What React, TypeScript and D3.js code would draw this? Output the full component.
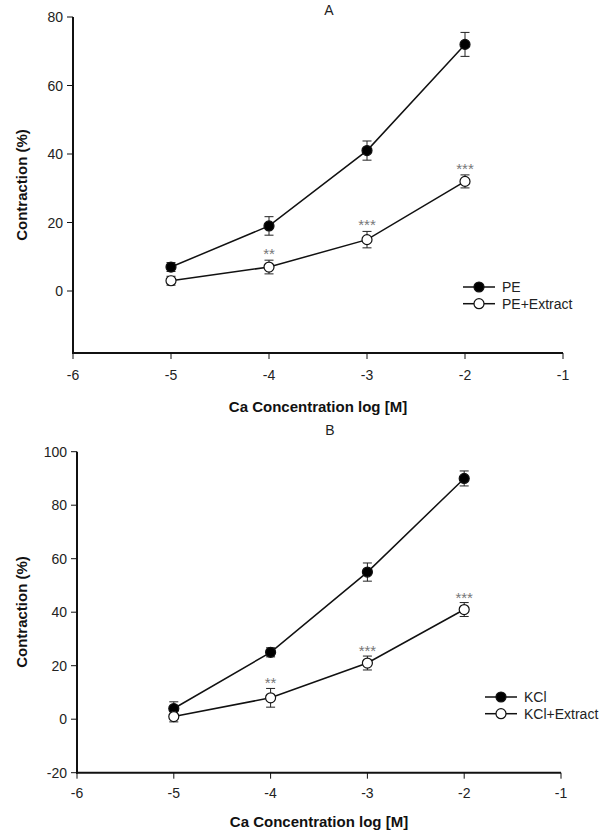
import React from "react";
import * as d3 from "d3";

const concentrations = [-5, -4, -3, -2];
const xTicks = [-6, -5, -4, -3, -2, -1];

const peMean = [7, 19, 41, 72];
const peErr = [1.3, 2.7, 2.8, 3.5];
const peExtMean = [3, 7, 15, 32];
const peExtErr = [1.3, 2, 2.4, 1.9];
const peStars = ["", "**", "***", "***"];
const yTicksA = [0, 20, 40, 60, 80];

const kclMean = [4, 25, 55, 90];
const kclErr = [2.5, 1.7, 3.4, 2.8];
const kclExtMean = [1, 8, 21, 41];
const kclExtErr = [2, 3.5, 2.6, 2.6];
const kclStars = ["", "**", "***", "***"];
const yTicksB = [-20, 0, 20, 40, 60, 80, 100];

const FONT = "'Liberation Sans', Arial, sans-serif";

type PanelProps = {
  title: string;
  titleY: number;
  x0: number;
  x1: number;
  yTop: number;
  yBottom: number;
  yDomain: [number, number];
  yTicks: number[];
  ctrlMean: number[];
  ctrlErr: number[];
  extMean: number[];
  extErr: number[];
  stars: string[];
  ctrlLabel: string;
  extLabel: string;
  legendX: number;
  legendY: number;
  tickLabelDy: number;
  xTitleY: number;
  yTitleY: number;
  starDy: number;
};

function Panel(p: PanelProps) {
  const x = d3.scaleLinear().domain([-6, -1]).range([p.x0, p.x1]);
  const y = d3.scaleLinear().domain(p.yDomain).range([p.yBottom, p.yTop]);
  const line = d3
    .line<number>()
    .x((_, i) => x(concentrations[i]))
    .y((d) => y(d));

  const series = [
    { mean: p.ctrlMean, err: p.ctrlErr, fill: "#000" },
    { mean: p.extMean, err: p.extErr, fill: "#fff" },
  ];
  const cap = 4.5;

  return (
    <g>
      <text x={(p.x0 + p.x1) / 2 + 11} y={p.titleY} fontFamily={FONT} fontSize={14} textAnchor="middle" fill="#222">
        {p.title}
      </text>
      {/* axes */}
      <line x1={p.x0} x2={p.x0} y1={p.yTop} y2={p.yBottom + 1} stroke="#111" strokeWidth={2} />
      <line x1={p.x0 - 1} x2={p.x1} y1={p.yBottom} y2={p.yBottom} stroke="#111" strokeWidth={2} />
      {p.yTicks.map((t) => (
        <g key={"y" + t}>
          <line x1={p.x0 - 6} x2={p.x0} y1={y(t)} y2={y(t)} stroke="#111" strokeWidth={1} />
          <text x={p.x0 - 10} y={y(t)} dy="0.36em" textAnchor="end" fontFamily={FONT} fontSize={14} fill="#222">
            {t}
          </text>
        </g>
      ))}
      {xTicks.map((t) => (
        <g key={"x" + t}>
          <line x1={x(t)} x2={x(t)} y1={p.yBottom} y2={p.yBottom + 6} stroke="#111" strokeWidth={1} />
          <text x={x(t)} y={p.yBottom + p.tickLabelDy} dy="0.36em" textAnchor="middle" fontFamily={FONT} fontSize={14} fill="#222">
            {t}
          </text>
        </g>
      ))}
      <text x={(p.x0 + p.x1) / 2} y={p.xTitleY} dy="0.36em" textAnchor="middle" fontFamily={FONT} fontSize={15} fontWeight="bold" fill="#111">
        Ca Concentration log [M]
      </text>
      <text
        transform={`translate(22,${p.yTitleY}) rotate(-90)`}
        dy="0.36em"
        textAnchor="middle"
        fontFamily={FONT}
        fontSize={15}
        fontWeight="bold"
        fill="#111"
      >
        Contraction (%)
      </text>
      {/* lines */}
      {series.map((s, si) => (
        <path key={"l" + si} d={line(s.mean) || ""} fill="none" stroke="#111" strokeWidth={1.5} />
      ))}
      {/* error bars */}
      {series.map((s, si) =>
        s.mean.map((m, i) => {
          const cx = x(concentrations[i]);
          const top = y(m + s.err[i]);
          const bot = y(m - s.err[i]);
          return (
            <g key={"e" + si + i} stroke="#222" strokeWidth={1}>
              <line x1={cx} x2={cx} y1={top} y2={bot} />
              <line x1={cx - cap} x2={cx + cap} y1={top} y2={top} />
              <line x1={cx - cap} x2={cx + cap} y1={bot} y2={bot} />
            </g>
          );
        })
      )}
      {/* markers */}
      {series.map((s, si) =>
        s.mean.map((m, i) => (
          <circle key={"c" + si + i} cx={x(concentrations[i])} cy={y(m)} r={5} fill={s.fill} stroke="#111" strokeWidth={1.2} />
        ))
      )}
      {/* stars */}
      {p.stars.map((st, i) =>
        st ? (
          <text
            key={"s" + i}
            x={x(concentrations[i])}
            y={y(p.extMean[i] + p.extErr[i]) + p.starDy}
            textAnchor="middle"
            fontFamily={FONT}
            fontSize={15}
            fill="#777"
          >
            {st}
          </text>
        ) : null
      )}
      {/* legend */}
      {[
        { label: p.ctrlLabel, fill: "#000" },
        { label: p.extLabel, fill: "#fff" },
      ].map((l, i) => {
        const ly = p.legendY + i * 16.7;
        return (
          <g key={"lg" + i}>
            <line x1={p.legendX} x2={p.legendX + 32} y1={ly} y2={ly} stroke="#111" strokeWidth={1.5} />
            <circle cx={p.legendX + 16} cy={ly} r={5} fill={l.fill} stroke="#111" strokeWidth={1.2} />
            <text x={p.legendX + 39} y={ly} dy="0.36em" fontFamily={FONT} fontSize={14} fill="#222">
              {l.label}
            </text>
          </g>
        );
      })}
    </g>
  );
}

export default function App() {
  return (
    <svg
      width={605}
      height={833}
      style={{ position: "absolute", left: 0, top: 0, background: "#fff" }}
    >
      <rect width={605} height={833} fill="#fff" />
      <Panel
        title="A"
        titleY={15}
        x0={73}
        x1={563}
        yTop={17}
        yBottom={353}
        yDomain={[-18.1, 80]}
        yTicks={yTicksA}
        ctrlMean={peMean}
        ctrlErr={peErr}
        extMean={peExtMean}
        extErr={peExtErr}
        stars={peStars}
        ctrlLabel="PE"
        extLabel="PE+Extract"
        legendX={463}
        legendY={287}
        tickLabelDy={22}
        xTitleY={407}
        yTitleY={185}
        starDy={-1}
      />
      <Panel
        title="B"
        titleY={435}
        x0={77}
        x1={561}
        yTop={451.7}
        yBottom={772.7}
        yDomain={[-20, 100]}
        yTicks={yTicksB}
        ctrlMean={kclMean}
        ctrlErr={kclErr}
        extMean={kclExtMean}
        extErr={kclExtErr}
        stars={kclStars}
        ctrlLabel="KCl"
        extLabel="KCl+Extract"
        legendX={485}
        legendY={697}
        tickLabelDy={20}
        xTitleY={822}
        yTitleY={612}
        starDy={0}
      />
    </svg>
  );
}
